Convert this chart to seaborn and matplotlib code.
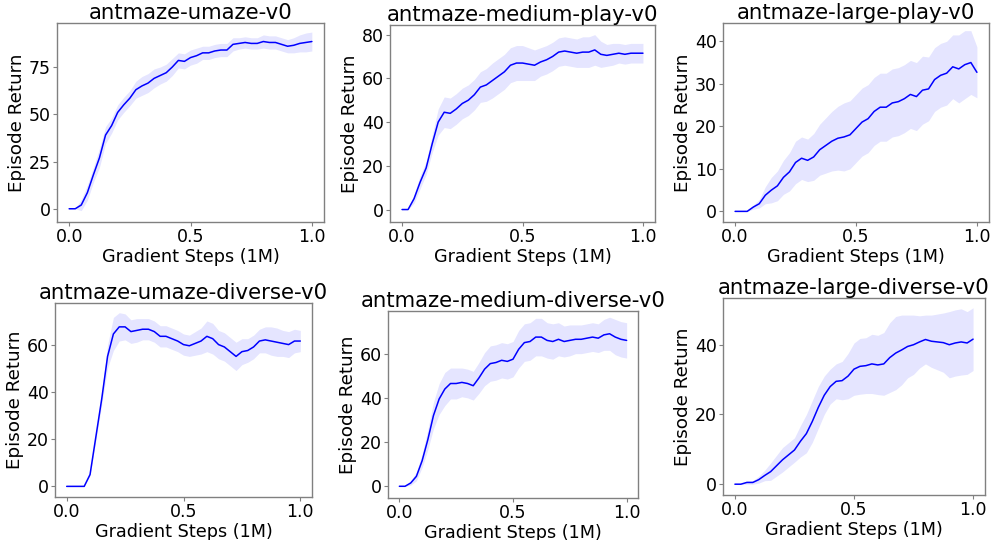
import numpy as np
import pandas as pd
import matplotlib
matplotlib.use("Agg")
import matplotlib.pyplot as plt
import seaborn as sns

steps = np.linspace(0.0, 1.0, 41)

titles = ["antmaze-umaze-v0", "antmaze-medium-play-v0", "antmaze-large-play-v0",
          "antmaze-umaze-diverse-v0", "antmaze-medium-diverse-v0", "antmaze-large-diverse-v0"]

umaze_mean = [0, 0, 2, 8.5, 18, 27, 39, 44, 51, 55, 58.5, 63, 65, 66.5, 69, 70.5, 72, 75, 78.5, 78,
              80, 81, 82.5, 82.5, 83.5, 84, 84, 87, 87.5, 88, 87.5, 87.5, 88.5, 88, 88, 87, 86, 86.5,
              87.5, 88, 88.5]
umaze_std = [0, 0, 3, 4, 4, 5, 4.5, 4, 4, 4, 4, 4.5, 5, 5, 5, 4.5, 4.5, 4.5, 4, 4, 4, 4, 3.5, 3.5,
             3.5, 3.5, 3.5, 3.5, 3, 3, 3, 3, 3.5, 3.5, 3.5, 3.5, 3.5, 4, 4.5, 5, 5]

medplay_mean = [0, 0, 5, 12.5, 19, 30, 40, 44.5, 44, 46, 48.5, 50, 52.5, 56, 57, 59, 61, 63, 66, 67,
                67, 66.5, 66, 67.5, 68.5, 70, 72, 72.5, 72, 71.5, 72, 72, 73, 71, 70.5, 71, 71.5, 71,
                71.5, 71.5, 71.5]
medplay_std = [0, 0, 2, 3, 3, 4, 6, 7, 7, 7, 7, 7, 7, 7, 7.5, 8, 8, 8, 8, 8, 8, 7.5, 7, 6.5, 6.5,
               6.5, 6.5, 6.5, 6.5, 6.5, 7, 7, 7, 6, 5, 5, 4.5, 4.5, 4.5, 4.5, 4.5]

largeplay_mean = [0, 0, 0, 1, 1.8, 3.8, 5, 6, 8, 9.3, 11.5, 12.5, 12, 12.8, 14.5, 15.5, 16.5, 17.2,
                  17.5, 18, 19.5, 21, 21.8, 23.5, 24.5, 24.5, 25.5, 25.8, 26.5, 27.5, 27, 28.5, 28.8,
                  31, 32, 32.5, 34, 33.5, 34.5, 35, 32.7]
largeplay_std = [0, 0, 0, 0.5, 1, 2, 3, 3.5, 4, 4.5, 5, 5, 5, 5.5, 6, 6.5, 7, 7.5, 8, 8, 8, 8, 8, 8,
                 8, 8, 8, 8, 8, 8, 8, 8, 7.5, 7.5, 7.5, 7.5, 7.5, 8, 8, 7.5, 6]

umazediv_mean = [0, 0, 0, 0, 5, 21, 37, 55, 64.5, 67.5, 67.5, 65.5, 66, 66.5, 66.5, 65.5, 63.5, 63.5,
                 62.5, 61.5, 60, 59.5, 60.5, 61.5, 63.5, 62.5, 60, 59, 57, 55, 57, 57.5, 59, 61.5,
                 62, 61.5, 61, 60.5, 60, 61.5, 61.5]
umazediv_std = [0, 0, 0, 0, 0.5, 1.5, 2.5, 5, 7, 6, 5.5, 5, 5, 4.5, 4.5, 4.5, 4.5, 4.5, 4.5, 4.5,
                4.5, 4.5, 5, 5.5, 6.5, 6.5, 6, 6, 6, 6, 5.5, 5, 5, 5, 5.5, 6, 6, 5.5, 5.5, 5, 4.5]

meddiv_mean = [0, 0, 1.5, 4.5, 11.5, 21, 32, 39.5, 44, 46.5, 46.5, 47, 46.5, 45.5, 49, 53, 55.5, 56,
               57, 56.5, 57.5, 62, 65, 65.5, 67.5, 67.5, 66, 65.5, 66.5, 65.5, 66, 66.5, 66.5, 67,
               67.5, 67, 68.5, 69, 67.5, 66.5, 66]
meddiv_std = [0, 0, 1, 2, 3, 4.5, 6, 7, 7.5, 7, 7, 6.5, 6.5, 6.5, 7, 7.5, 8, 8, 8, 8, 8, 8.5, 8.5,
              8.5, 8.5, 8.5, 8, 8, 7.5, 7, 7, 6.5, 6.5, 6.5, 6.5, 6.5, 7, 7.5, 8, 8, 8]

largediv_mean = [0, 0, 0.5, 0.5, 1.3, 2.5, 3.6, 5.3, 7, 8.4, 9.8, 12.3, 14.5, 18, 22, 25.5, 28, 29.5,
                 29.7, 31, 33, 33.8, 34, 34.5, 34.2, 34.5, 36.3, 37.6, 38.5, 39.5, 40, 40.8, 41.5,
                 41, 40.8, 40.6, 40, 40.5, 40.8, 40.5, 41.6]
largediv_std = [0, 0, 0.5, 0.5, 1, 1.5, 2.5, 3, 3.5, 3.5, 3.5, 4.5, 5.5, 6, 6, 5.5, 5, 5, 5.5, 6.5,
                7.5, 8, 8, 8.5, 8.5, 9, 10, 10.5, 10, 9, 8.5, 7.5, 7, 7.5, 8, 8.5, 9.5, 9.5, 9.5, 9, 9]

means = [umaze_mean, medplay_mean, largeplay_mean, umazediv_mean, meddiv_mean, largediv_mean]
stds = [umaze_std, medplay_std, largeplay_std, umazediv_std, meddiv_std, largediv_std]

yticks = [[0, 25, 50, 75], [0, 20, 40, 60, 80], [0, 10, 20, 30, 40],
          [0, 20, 40, 60], [0, 20, 40, 60], [0, 20, 40]]
ylims = [(-7.0, 98.3), (-5.7, 84.4), (-2.5, 44.3), (-4.5, 77.6), (-5.3, 79.3), (-3.1, 53.4)]
xticks = [0.0, 0.5, 1.0]

sns.set_theme(style="white")
plt.rcParams['font.family'] = ['DejaVu Sans']
plt.rcParams['text.color'] = 'black'
plt.rcParams['axes.labelcolor'] = 'black'
plt.rcParams['xtick.labelcolor'] = 'black'
plt.rcParams['ytick.labelcolor'] = 'black'

fig = plt.figure(figsize=(9.91, 5.40), dpi=100)
W, H = 991.0, 540.0
boxes = [(57, 23, 324, 222), (390, 25, 655, 222), (723, 23, 989, 222),
         (55, 303, 312, 497), (388, 311, 638, 498), (723, 298, 985, 495)]

for i in range(6):
    l, t, r, b = boxes[i]
    ax = fig.add_axes([l / W, (H - b) / H, (r - l) / W, (b - t) / H])
    m = np.array(means[i], dtype=float)
    s = np.array(stds[i], dtype=float)
    df = pd.DataFrame({"step": steps, "ret": m})
    ax.fill_between(steps, m - s, m + s, color="blue", alpha=0.1, linewidth=0)
    sns.lineplot(data=df, x="step", y="ret", ax=ax, color="blue", linewidth=1.1, errorbar=None)
    ax.set_title(titles[i], fontsize=15.3, pad=3, color="black")
    ax.set_xlabel("Gradient Steps (1M)", fontsize=12.7, labelpad=1, color="black")
    ax.set_ylabel("Episode Return", fontsize=13.2, labelpad=2, color="black")
    ax.set_xticks(xticks)
    ax.set_xticklabels(["0.0", "0.5", "1.0"])
    ax.set_yticks(yticks[i])
    ax.set_xlim(-0.05, 1.05)
    ax.set_ylim(*ylims[i])
    ax.tick_params(axis="both", labelsize=12.5, length=3, width=0.8, color="#808080",
                   labelcolor="black", direction="out", pad=1.5, bottom=True, left=True)
    for sp in ax.spines.values():
        sp.set_color("#808080")
        sp.set_linewidth(1.0)

fig.savefig("out.png", dpi=100)
